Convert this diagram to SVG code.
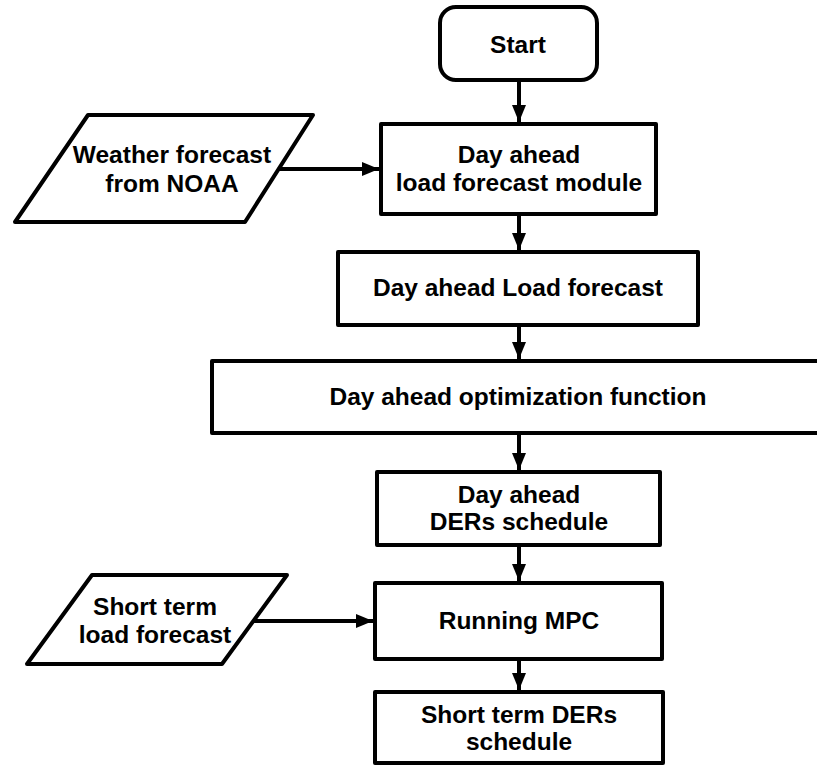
<svg xmlns="http://www.w3.org/2000/svg" width="817" height="769" viewBox="0 0 817 769">
  <style>
    .box { fill: #ffffff; stroke: #000000; stroke-width: 4; stroke-linejoin: round; }
    .lbl { font-family: "Liberation Sans", Arial, sans-serif; font-weight: bold; font-size: 24.5px; fill: #000000; text-anchor: middle; }
    .edge { stroke: #000000; stroke-width: 4; fill: none; }
  </style>
  <defs>
    <marker id="arrow" markerUnits="userSpaceOnUse" markerWidth="17" markerHeight="14" refX="17" refY="7" orient="auto">
      <path d="M0,0 L17,7 L0,14 z" fill="#000000"/>
    </marker>
  </defs>
  <rect x="0" y="0" width="817" height="769" fill="#ffffff"/>

  <g id="connectors">
    <line class="edge" x1="519" y1="82" x2="519" y2="122" marker-end="url(#arrow)"/>
    <line class="edge" x1="279" y1="169" x2="379" y2="169" marker-end="url(#arrow)"/>
    <line class="edge" x1="519" y1="216" x2="519" y2="250" marker-end="url(#arrow)"/>
    <line class="edge" x1="519" y1="327" x2="519" y2="359" marker-end="url(#arrow)"/>
    <line class="edge" x1="519" y1="435" x2="519" y2="470" marker-end="url(#arrow)"/>
    <line class="edge" x1="519" y1="547" x2="519" y2="581" marker-end="url(#arrow)"/>
    <line class="edge" x1="253" y1="621" x2="373" y2="621" marker-end="url(#arrow)"/>
    <line class="edge" x1="519" y1="661" x2="519" y2="690" marker-end="url(#arrow)"/>
  </g>

  <g id="start">
    <rect class="box" x="440" y="7" width="157" height="73" rx="16" ry="16"/>
    <text class="lbl" x="518" y="53">Start</text>
  </g>

  <g id="weather">
    <polygon class="box" points="88,115 313,115 245,222 15,222"/>
    <text class="lbl" x="172" y="163">Weather forecast</text>
    <text class="lbl" x="172" y="192">from NOAA</text>
  </g>

  <g id="load-forecast-module">
    <rect class="box" x="381" y="124" width="275" height="90"/>
    <text class="lbl" x="519" y="163">Day ahead</text>
    <text class="lbl" x="519" y="191">load forecast module</text>
  </g>

  <g id="load-forecast">
    <rect class="box" x="338" y="252" width="360" height="73"/>
    <text class="lbl" x="518" y="296">Day ahead Load forecast</text>
  </g>

  <g id="optimization">
    <rect class="box" x="212" y="361" width="620" height="72"/>
    <text class="lbl" x="518" y="405">Day ahead optimization function</text>
  </g>

  <g id="ders-schedule">
    <rect class="box" x="377" y="472" width="283" height="73"/>
    <text class="lbl" x="519" y="503">Day ahead</text>
    <text class="lbl" x="519" y="530">DERs schedule</text>
  </g>

  <g id="short-term-forecast">
    <polygon class="box" points="92,575 287,575 222,664 27,664"/>
    <text class="lbl" x="155" y="615">Short term</text>
    <text class="lbl" x="155" y="643">load forecast</text>
  </g>

  <g id="mpc">
    <rect class="box" x="375" y="583" width="287" height="76"/>
    <text class="lbl" x="519" y="629">Running MPC</text>
  </g>

  <g id="short-term-schedule">
    <rect class="box" x="375" y="692" width="288" height="71"/>
    <text class="lbl" x="519" y="723">Short term DERs</text>
    <text class="lbl" x="519" y="750">schedule</text>
  </g>
</svg>
